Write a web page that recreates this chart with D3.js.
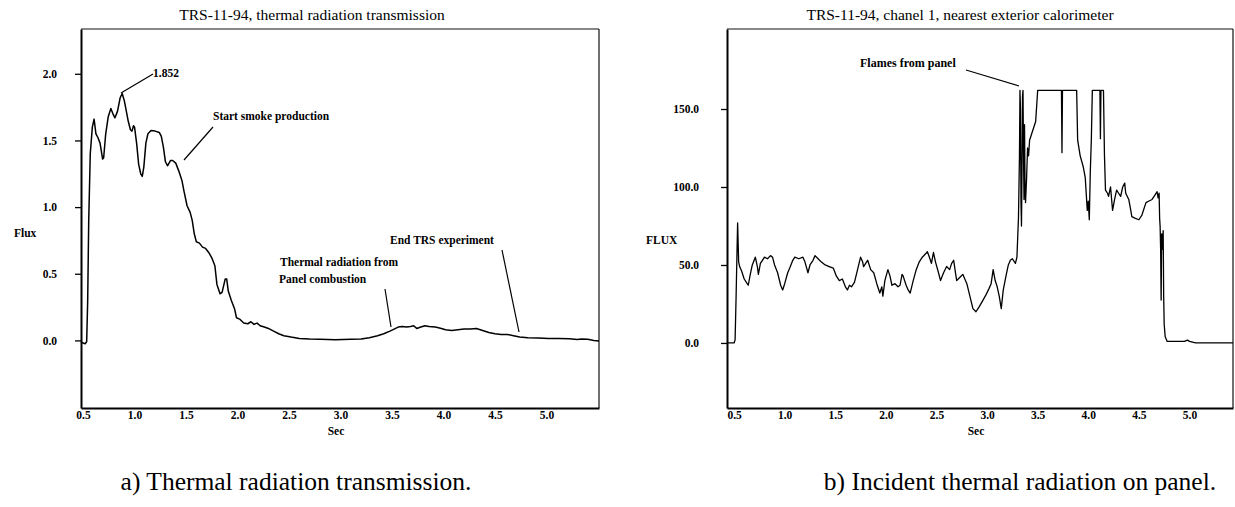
<!DOCTYPE html>
<html><head><meta charset="utf-8">
<script src="https://cdn.jsdelivr.net/npm/d3@7"></script>
<style>body{margin:0;background:#fff}svg{display:block}</style>
</head><body>
<script>
// ---------- data ----------
const xTickValues = [0.5,1.0,1.5,2.0,2.5,3.0,3.5,4.0,4.5,5.0];
const leftYTicks = [0.0,0.5,1.0,1.5,2.0];
const rightYTicks = [0.0,50.0,100.0,150.0];

const leftTime = [0.48,0.50,0.52,0.535,0.545,0.555,0.57,0.59,0.607,0.625,0.645,0.665,0.69,0.70,0.72,0.745,0.77,0.79,0.81,0.835,0.86,0.88,0.90,0.92,0.94,0.96,0.975,0.99,1.0,1.02,1.04,1.06,1.075,1.09,1.11,1.13,1.16,1.20,1.24,1.26,1.28,1.30,1.32,1.35,1.37,1.40,1.43,1.46,1.48,1.51,1.54,1.56,1.58,1.60,1.63,1.66,1.69,1.72,1.75,1.78,1.80,1.83,1.85,1.88,1.895,1.91,1.94,1.97,1.99,2.02,2.06,2.10,2.13,2.16,2.19,2.22,2.26,2.30,2.35,2.40,2.45,2.52,2.60,2.70,2.80,2.95,3.10,3.20,3.28,3.36,3.42,3.48,3.52,3.56,3.60,3.64,3.68,3.71,3.74,3.78,3.82,3.86,3.92,3.98,4.02,4.08,4.14,4.20,4.26,4.32,4.38,4.44,4.50,4.56,4.62,4.68,4.74,4.82,4.92,5.02,5.12,5.22,5.30,5.34,5.40,5.46,5.51];
const leftFlux = [-0.01,-0.02,-0.025,-0.01,0.3,0.9,1.4,1.6,1.66,1.55,1.52,1.48,1.36,1.37,1.55,1.68,1.74,1.70,1.67,1.72,1.82,1.852,1.80,1.72,1.64,1.58,1.57,1.61,1.60,1.48,1.32,1.25,1.23,1.30,1.48,1.55,1.575,1.57,1.56,1.53,1.45,1.34,1.31,1.35,1.35,1.33,1.27,1.20,1.12,1.01,0.96,0.90,0.80,0.74,0.73,0.70,0.69,0.66,0.62,0.56,0.42,0.35,0.36,0.46,0.46,0.37,0.30,0.24,0.17,0.16,0.13,0.125,0.14,0.12,0.13,0.11,0.10,0.09,0.07,0.05,0.035,0.025,0.015,0.01,0.008,0.005,0.008,0.01,0.02,0.035,0.05,0.07,0.085,0.10,0.105,0.10,0.105,0.11,0.09,0.10,0.11,0.105,0.10,0.09,0.08,0.075,0.08,0.085,0.085,0.09,0.075,0.06,0.05,0.045,0.045,0.035,0.025,0.02,0.018,0.015,0.015,0.012,0.006,0.01,0.008,0.0,-0.005];

const rightTime = [0.43,0.50,0.51,0.52,0.53,0.535,0.545,0.555,0.575,0.60,0.62,0.64,0.66,0.68,0.71,0.73,0.74,0.76,0.78,0.80,0.83,0.86,0.88,0.90,0.93,0.96,0.98,1.00,1.03,1.05,1.08,1.10,1.14,1.18,1.20,1.23,1.25,1.28,1.30,1.33,1.36,1.40,1.44,1.48,1.51,1.54,1.57,1.60,1.62,1.64,1.66,1.69,1.72,1.75,1.77,1.78,1.80,1.82,1.85,1.88,1.91,1.94,1.96,1.97,1.99,2.02,2.04,2.06,2.09,2.12,2.14,2.16,2.17,2.20,2.22,2.24,2.27,2.30,2.33,2.36,2.39,2.41,2.43,2.45,2.47,2.49,2.52,2.54,2.57,2.60,2.63,2.65,2.67,2.69,2.70,2.73,2.76,2.78,2.80,2.83,2.86,2.89,2.92,2.96,2.99,3.02,3.04,3.06,3.08,3.10,3.12,3.14,3.16,3.19,3.21,3.23,3.25,3.28,3.295,3.31,3.32,3.325,3.33,3.335,3.34,3.345,3.35,3.355,3.36,3.365,3.37,3.375,3.38,3.39,3.40,3.41,3.42,3.44,3.46,3.48,3.50,3.52,3.60,3.70,3.735,3.74,3.745,3.80,3.885,3.895,3.92,3.95,3.97,3.99,4.00,4.01,4.02,4.03,4.04,4.10,4.115,4.12,4.125,4.15,4.16,4.17,4.19,4.20,4.22,4.24,4.26,4.28,4.30,4.32,4.34,4.36,4.37,4.40,4.42,4.43,4.46,4.50,4.53,4.57,4.60,4.63,4.66,4.68,4.69,4.70,4.705,4.71,4.715,4.72,4.725,4.73,4.74,4.745,4.75,4.76,4.78,4.85,4.95,4.98,5.00,5.06,5.20,5.43];
const rightFlux = [0,0,2,30,62,77,52,49,46,41,39,37,44,50,55,49,44,51,53,55,54,56,55,50,45,37,34,38,45,48,53,55,54,55,52,45,50,53,56,54,52,50,49,48,43,40,41,36,34,37,36,39,47,55,52,49,51,53,47,45,38,32,36,30,40,47,43,37,38,36,37,44,43,37,34,32,40,47,52,55,57,58.5,55,51,58,52,45,40,45,49,47,51,53,44,40,42,44,41,38,30,22,20,23,27.5,31,35,38,47,40,36,30,22,34,44,50,53,54,51,55,80,120,162,150,90,75,110,158,162,120,92,140,100,90,105,125,120,130,134,138,142,162,162,162,162,162,122,162,162,162,130,120,113,106,85,91,79,110,130,162,162,162,131,162,162,120,98,96,94,100,85,92,98,96,94,100,102.5,96,92,85,81,80,79,82,90,91,92,95,97,93,96,80,74.6,60,27.5,70,60,72,30,12,4,1,1,1,1.8,1,0,0,0];

// ---------- panels ----------
const panels = [
  {title:"TRS-11-94, thermal radiation transmission", time:leftTime, values:leftFlux,
   x0:81, x1:599, y0:29, y1:408, xDomain:[0.48,5.51], yDomain:[-0.507,2.336], yTicks:leftYTicks,
   yLabel:"Flux", yLabelX:14, yLabelY:237, tickPad:18, titleX:312, secX:336, lw:1.5,
   caption:"a) Thermal radiation transmission.", captionX:296},
  {title:"TRS-11-94, chanel 1, nearest exterior calorimeter", time:rightTime, values:rightFlux,
   x0:727, x1:1233, y0:29, y1:408, xDomain:[0.43,5.43], yDomain:[-41.7,201.3], yTicks:rightYTicks,
   yLabel:"FLUX", yLabelX:646, yLabelY:244, tickPad:22, titleX:960, secX:976, lw:1.3,
   caption:"b) Incident thermal radiation on panel.", captionX:1020}
];

const svg = d3.select("body").append("svg").attr("width",1235).attr("height",507)
  .style("font-family","'Liberation Serif','Times New Roman',serif");
svg.append("rect").attr("width",1235).attr("height",507).attr("fill","#fff");

panels.forEach((p,i)=>{
  const x = d3.scaleLinear().domain(p.xDomain).range([p.x0,p.x1]);
  const y = d3.scaleLinear().domain(p.yDomain).range([p.y1,p.y0]);
  const g = svg.append("g");

  g.append("line").attr("x1",p.x0).attr("x2",p.x1).attr("y1",p.y0).attr("y2",p.y0).attr("stroke","#111").attr("stroke-width",1.2);
  g.append("line").attr("x1",p.x1).attr("x2",p.x1).attr("y1",p.y0).attr("y2",p.y1).attr("stroke","#111").attr("stroke-width",1.2);

  const ya = g.append("g").attr("transform",`translate(${p.x0},0)`)
    .call(d3.axisLeft(y).tickValues(p.yTicks).tickFormat(d3.format(".1f")).tickSize(6).tickPadding(p.tickPad).tickSizeOuter(0));
  ya.select(".domain").attr("stroke","#000").attr("stroke-width",2);
  ya.selectAll(".tick line").attr("stroke","#000").attr("stroke-width",1.3);
  ya.selectAll("text").attr("font-family","'Liberation Serif',serif").attr("font-size",11.5).attr("font-weight","bold").attr("fill","#000");

  const xa = g.append("g").attr("transform",`translate(0,${p.y1})`)
    .call(d3.axisBottom(x).tickValues(xTickValues).tickFormat(d3.format(".1f")).tickSize(0).tickPadding(3).tickSizeOuter(0));
  xa.select(".domain").attr("stroke","#000").attr("stroke-width",2.2);
  xa.selectAll("text").attr("font-family","'Liberation Serif',serif").attr("font-size",11.5).attr("font-weight","bold").attr("fill","#000");

  const line = d3.line().x((d,j)=>x(p.time[j])).y((d,j)=>y(p.values[j]));
  g.append("path").datum(p.values).attr("d",line).attr("fill","none").attr("stroke","#000").attr("stroke-width",p.lw).attr("stroke-linejoin","round");

  g.append("text").attr("x",p.titleX).attr("y",20).attr("text-anchor","middle").attr("font-size",15.5).text(p.title);
  g.append("text").attr("x",p.yLabelX).attr("y",p.yLabelY).attr("font-size",11.5).attr("font-weight","bold").text(p.yLabel);
  g.append("text").attr("x",p.secX).attr("y",435).attr("text-anchor","middle").attr("font-size",11.5).attr("font-weight","bold").text("Sec");
  g.append("text").attr("x",p.captionX).attr("y",490).attr("text-anchor","middle").attr("font-size",25.5).text(p.caption);
});

const ann = svg.append("g").attr("font-size",11.5).attr("font-weight","bold");
function note(txt,tx,ty,lx1,ly1,lx2,ly2,fs){
  const t = ann.append("text").attr("x",tx).attr("y",ty).text(txt);
  if(fs) t.attr("font-size",fs);
  if(lx1!=null) ann.append("line").attr("x1",lx1).attr("y1",ly1).attr("x2",lx2).attr("y2",ly2).attr("stroke","#000").attr("stroke-width",1.2);
}
note("1.852",153,77,121,93,153,74);
note("Start smoke production",213,120,213,127,184,160);
note("End TRS experiment",390,244,502,250,519,332);
note("Thermal radiation from",280,266,385,289,391,327);
note("Panel combustion",279,283,null,null,null,null);
note("Flames from panel",860,67,966,70,1019,86,12);
</script>
</body></html>
